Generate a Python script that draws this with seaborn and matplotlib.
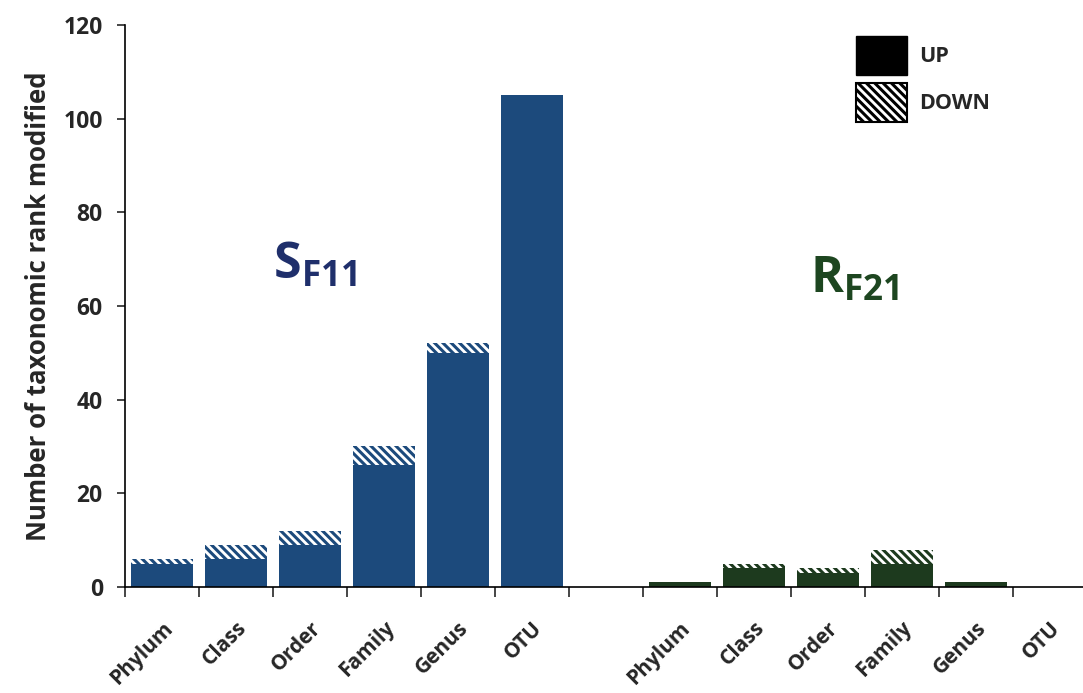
import matplotlib
matplotlib.use("Agg")
import matplotlib.pyplot as plt
import matplotlib.patches as mpatches
import seaborn as sns
import pandas as pd
import numpy as np

# values
ranks = ["Phylum", "Class", "Order", "Family", "Genus", "OTU"]
sf11_up = [5, 6, 9, 26, 50, 105]
sf11_down = [1, 3, 3, 4, 2, 0]
rf21_up = [1, 4, 3, 5, 1, 0]
rf21_down = [0, 1, 1, 3, 0, 0]

blue = "#1c4a7c"
green = "#1d3a1e"

sns.set_theme(style="white")
plt.rcParams["font.family"] = ["Open Sans", "DejaVu Sans"]
plt.rcParams["font.weight"] = "bold"
plt.rcParams["hatch.linewidth"] = 2.2
plt.rcParams["mathtext.fontset"] = "custom"
plt.rcParams["mathtext.bf"] = "Open Sans:bold"
plt.rcParams["mathtext.rm"] = "Open Sans:bold"

# build table with a blank slot between the two groups
slots = ["S_" + r for r in ranks] + ["gap"] + ["R_" + r for r in ranks]
df = pd.DataFrame({
    "slot": ["S_" + r for r in ranks] + ["R_" + r for r in ranks],
    "group": ["SF11"] * 6 + ["RF21"] * 6,
    "up": sf11_up + rf21_up,
    "down": sf11_down + rf21_down,
})
df["total"] = df["up"] + df["down"]
pal = {"SF11": blue, "RF21": green}

fig = plt.figure(figsize=(10.83, 6.93), dpi=100)
ax = fig.add_axes([0.1154, 0.153, 0.888, 0.811])

# totals drawn first, then turned into hatched "down" part
sns.barplot(data=df, x="slot", y="total", hue="group", order=slots, palette=pal,
            dodge=False, width=0.84, legend=False, ax=ax, errorbar=None, saturation=1)
n_tot = len(ax.patches)
for p in ax.patches:
    col = p.get_facecolor()
    p.set_facecolor("white")
    p.set_edgecolor(col)
    p.set_hatch("\\\\\\\\")
    p.set_linewidth(0)

sns.barplot(data=df, x="slot", y="up", hue="group", order=slots, palette=pal,
            dodge=False, width=0.84, legend=False, ax=ax, errorbar=None,
            saturation=1)
for p in ax.patches[n_tot:]:
    p.set_linewidth(0)

ax.set_xlim(-0.5, 12.5)
ax.set_ylim(0, 120)
ax.set_yticks(np.arange(0, 121, 20))
ax.tick_params(axis="y", labelsize=16.5, length=6, width=1.2, direction="out", left=True, pad=10)
ax.set_ylabel("Number of taxonomic rank modified", fontsize=18.5, fontweight="bold", labelpad=8)
ax.set_xlabel("")

labels = ranks + [""] + ranks
ax.set_xticks(range(13))
ax.set_xticklabels(labels, rotation=45, ha="right", rotation_mode="anchor", fontsize=15, fontweight="bold")
ax.tick_params(axis="x", which="major", length=0, pad=22)
ax.set_xticks(np.arange(-0.5, 12.6, 1), minor=True)
ax.tick_params(axis="x", which="minor", length=7, width=1.2, direction="out", bottom=True)

for lab in ax.get_yticklabels():
    lab.set_fontweight("bold")

sns.despine(ax=ax, top=True, right=True)
ax.spines["left"].set_color("black")
ax.spines["bottom"].set_color("black")
ax.spines["left"].set_linewidth(1.2)
ax.spines["bottom"].set_linewidth(1.2)

ax.text(2.07, 68.5, r"$\mathbf{S_{F11}}$", fontsize=36, color="#1f2f6b", ha="center", va="center")
ax.text(9.36, 65.5, r"$\mathbf{R_{F21}}$", fontsize=36, color="#1d4620", ha="center", va="center")

h_up = mpatches.Patch(facecolor="black", edgecolor="black", label="UP")
h_down = mpatches.Patch(facecolor="white", edgecolor="black", hatch="\\\\\\\\", label="DOWN", linewidth=1.5)
ax.legend(handles=[h_up, h_down], loc="upper left", bbox_to_anchor=(0.74, 1.015), frameon=False,
          prop={"weight": "bold", "size": 15.5}, handlelength=2.35, handleheight=2.4,
          labelspacing=0.4, handletextpad=0.6)

fig.savefig("out.png", dpi=100)
